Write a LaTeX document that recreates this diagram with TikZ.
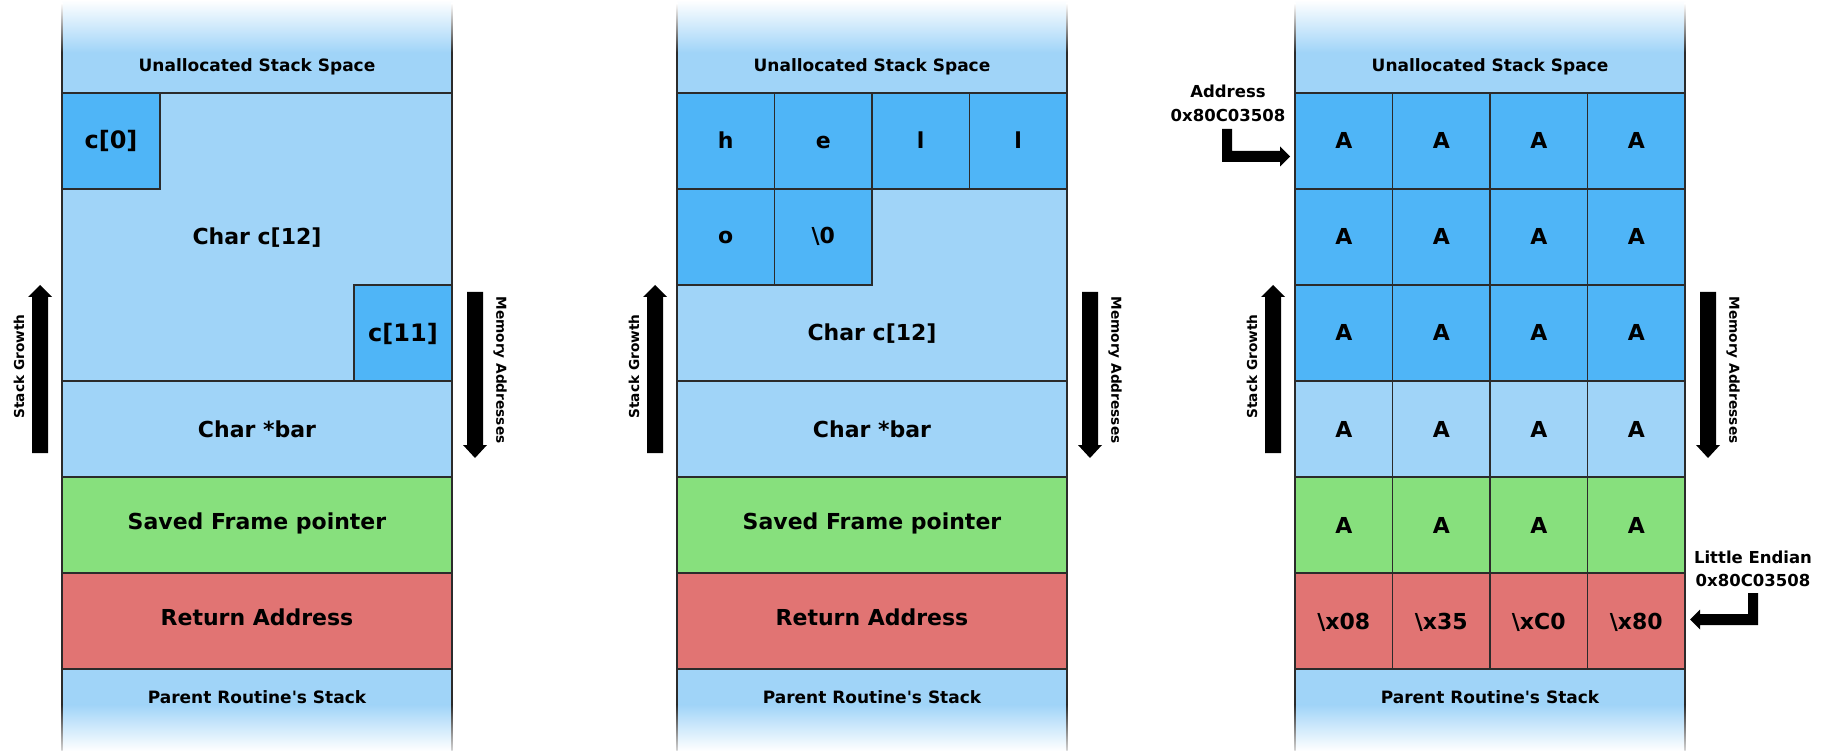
\documentclass[tikz,border=0pt]{standalone}
\usepackage{fontspec}
\setmainfont{DejaVu Sans}
\definecolor{lb}{HTML}{A0D4F8}
\definecolor{db}{HTML}{4FB5F7}
\definecolor{gr}{HTML}{87E07D}
\definecolor{rd}{HTML}{E17473}
\definecolor{bd}{HTML}{2B2B2B}
\tikzset{
  rowline/.style={draw=bd, line width=1.1pt},
  biglbl/.style={font=\bfseries\fontsize{22}{26}\selectfont, anchor=base, inner sep=0pt},
  idxlbl/.style={font=\bfseries\fontsize{24}{28}\selectfont, anchor=base, inner sep=0pt},
  smalllbl/.style={font=\bfseries\fontsize{17}{20}\selectfont, anchor=base, inner sep=0pt},
  addrlbl/.style={font=\bfseries\fontsize{16.5}{20}\selectfont, anchor=base, inner sep=0pt},
  sidelbl/.style={font=\bfseries\fontsize{13.7}{16}\selectfont, inner sep=0pt},
  fatarrow/.style={fill=black},
}
% #1 = left x, #2 = name prefix, #3 = column specific content
\newcommand\stackframe[3]{%
  \fill[lb] (#1,52) rectangle ({#1+390},705);
  \shade[top color=white,bottom color=lb] (#1,0) rectangle ({#1+390},52.5);
  \shade[top color=lb,bottom color=white] (#1,704.5) rectangle ({#1+390},751);
  \filldraw[rowline,fill=gr] (#1,477) rectangle ({#1+390},573);
  \filldraw[rowline,fill=rd] (#1,573) rectangle ({#1+390},669);
  #3
  \draw[rowline] (#1,93) -- ({#1+390},93);
  \draw[rowline] (#1,381) -- ({#1+390},381);
  \draw[rowline] (#1,477) -- ({#1+390},477);
  \draw[rowline] (#1,573) -- ({#1+390},573);
  \draw[rowline] (#1,669) -- ({#1+390},669);
  \draw[rowline] (#1,52) -- (#1,705) ({#1+390},52) -- ({#1+390},705);
  \shade[top color=white,bottom color=bd] ({#1-0.55},3) rectangle ({#1+0.55},52.5);
  \shade[top color=white,bottom color=bd] ({#1+389.45},3) rectangle ({#1+390.55},52.5);
  \shade[top color=bd,bottom color=white!80!bd] ({#1-0.55},704.5) rectangle ({#1+0.55},751);
  \shade[top color=bd,bottom color=white!80!bd] ({#1+389.45},704.5) rectangle ({#1+390.55},751);
  \node[smalllbl] (#2-top) at ({#1+195},72) {Unallocated Stack Space};
  \node[smalllbl] (#2-par) at ({#1+195},703) {Parent Routine\textquotesingle s Stack};
  % stack growth arrow
  \fill[fatarrow] ({#1-30},453) -- ({#1-30},297) -- ({#1-34},297) -- ({#1-22},285)
     -- ({#1-10},297) -- ({#1-14},297) -- ({#1-14},453) -- cycle;
  \node[sidelbl, rotate=90] (#2-sg) at ({#1-43},366.5) {Stack Growth};
  % memory addresses arrow
  \fill[fatarrow] ({#1+405},292) -- ({#1+405},445) -- ({#1+401},445) -- ({#1+413},458)
     -- ({#1+425},445) -- ({#1+421},445) -- ({#1+421},292) -- cycle;
  \node[sidelbl, rotate=-90] (#2-ma) at ({#1+438},370) {Memory Addresses};
}
\begin{document}
\begin{tikzpicture}[x=1pt,y=-1pt]
\useasboundingbox (0,0) rectangle (1823,751);
\fill[white] (0,0) rectangle (1823,751);

% ---------------- left frame ----------------
\stackframe{62}{L}{%
  \filldraw[rowline,fill=db] (62,93) rectangle (160,189);
  \filldraw[rowline,fill=db] (354,285) rectangle (452,381);
  \node[idxlbl] (L-c0) at (111,149) {c[0]};
  \node[idxlbl] (L-c11) at (403,341.5) {c[11]};
  \node[biglbl] (L-arr) at (257,245) {Char c[12]};
  \node[biglbl] (L-bar) at (257,437.5) {Char *bar};
  \node[biglbl] (L-sfp) at (257,529) {Saved Frame pointer};
  \node[biglbl] (L-ret) at (257,625.5) {Return Address};
}

% ---------------- middle frame ----------------
\stackframe{677}{M}{%
  \foreach \c/\t in {0/h,1/e,2/l,3/l}{
    \filldraw[rowline,fill=db] ({677+97.5*\c},93) rectangle ++(97.5,96);
    \node[biglbl] (M-a\c) at ({677+97.5*\c+48.75},149) {\t};
  }
  \filldraw[rowline,fill=db] (677,189) rectangle ++(97.5,96);
  \node[biglbl] (M-b0) at (725.75,244) {o};
  \filldraw[rowline,fill=db] (774.5,189) rectangle ++(97.5,96);
  \node[biglbl] (M-b1) at (823.25,244) {\textbackslash 0};
  \node[biglbl] (M-arr) at (872,341) {Char c[12]};
  \node[biglbl] (M-bar) at (872,437.5) {Char *bar};
  \node[biglbl] (M-sfp) at (872,529) {Saved Frame pointer};
  \node[biglbl] (M-ret) at (872,625.5) {Return Address};
}

% ---------------- right frame ----------------
\stackframe{1295}{R}{%
  \foreach \r/\col in {0/db,1/db,2/db,3/lb,4/gr}{
    \foreach \c in {0,...,3}{
      \filldraw[rowline,fill=\col] ({1295+97.5*\c},{93+96*\r}) rectangle ++(97.5,96);
      \node[biglbl] (R-\r-\c) at ({1295+97.5*\c+48.75},{93+96*\r+56}) {A};
    }
  }
  \foreach \c/\t in {0/08,1/35,2/C0,3/80}{
    \filldraw[rowline,fill=rd] ({1295+97.5*\c},573) rectangle ++(97.5,96);
    \node[biglbl] (R-5-\c) at ({1295+97.5*\c+48.75},629) {\textbackslash x\t};
  }
}

% address annotation
\node[addrlbl] (addr1) at (1228,98) {Address};
\node[addrlbl] (addr2) at (1228,121.7) {0x80C03508};
\fill[fatarrow] (1222,129) -- (1232,129) -- (1232,151) -- (1280,151) -- (1280,146.5)
   -- (1290,156.5) -- (1280,166.5) -- (1280,162) -- (1222,162) -- cycle;

% little endian annotation
\node[addrlbl] (le1) at (1753,563) {Little Endian};
\node[addrlbl] (le2) at (1753,586) {0x80C03508};
\fill[fatarrow] (1758,593) -- (1748,593) -- (1748,614) -- (1700,614) -- (1700,609.5)
   -- (1690,619.5) -- (1700,629.5) -- (1700,625) -- (1758,625) -- cycle;
\end{tikzpicture}
\end{document}
